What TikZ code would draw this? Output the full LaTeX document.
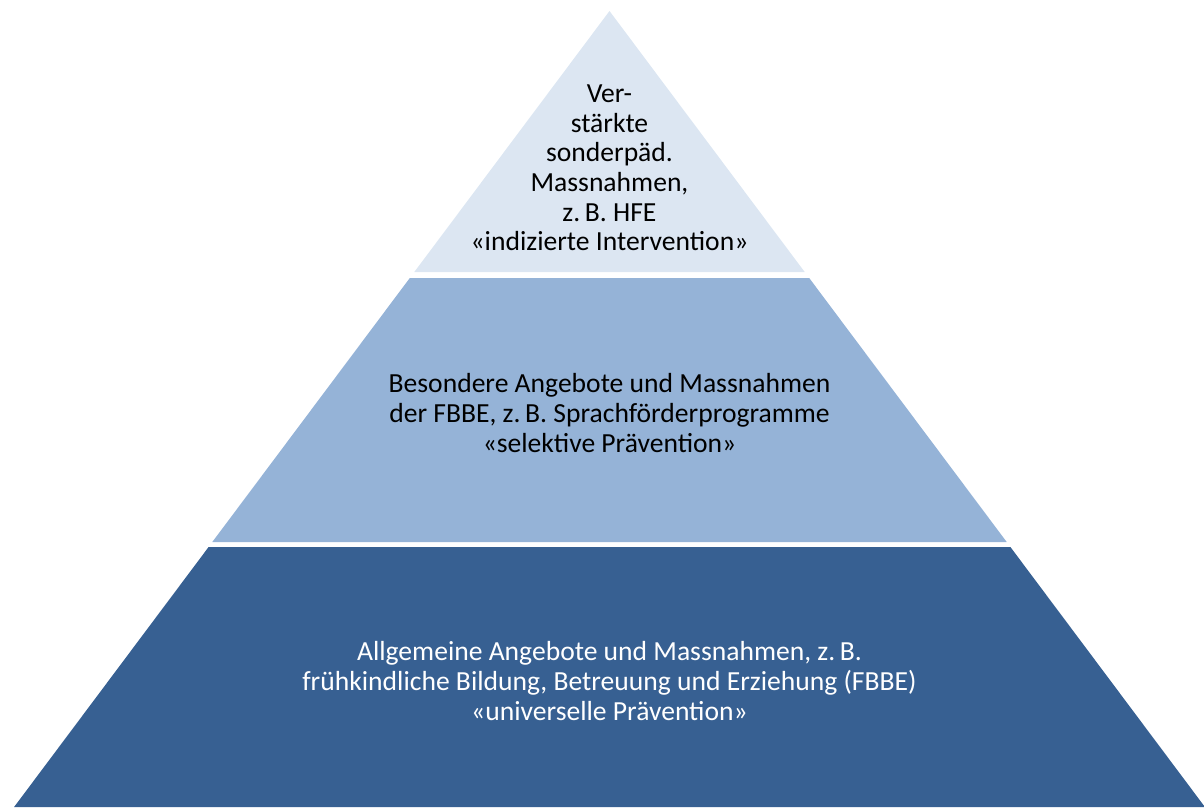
\documentclass[tikz,border=0pt]{standalone}
\usepackage{fontspec}
\setmainfont{Carlito}
\definecolor{tierTop}{HTML}{DCE6F2}
\definecolor{tierMid}{HTML}{95B3D7}
\definecolor{tierLow}{HTML}{376092}
\begin{document}
\begin{tikzpicture}[x=1pt,y=-1pt,
  tiertext/.style={align=center,inner sep=0pt,font=\fontsize{27.6}{29.6}\selectfont},
]
\useasboundingbox (0,0) rectangle (1204,807);
\clip (0,0) rectangle (1204,807);
% tiers
\fill[tierTop] (609.5,11) -- (804.7,272) -- (414.3,272) -- cycle;
\fill[tierMid] (409.8,278) -- (809.2,278) -- (1006.7,542) -- (212.3,542) -- cycle;
\fill[tierLow] (208.6,547) -- (1010.4,547) -- (1204.9,807) -- (14.1,807) -- cycle;
% texts
\node[tiertext,text=black] (top) at (609.5,168) {Ver-\\stärkte\\sonderpäd.\\Massnahmen,\\z.\,B. HFE\\«indizierte Intervention»};
\node[tiertext,text=black] (mid) at (609.5,413) {Besondere Angebote und Massnahmen\\der FBBE, z.\,B. Sprachförderprogramme\\«selektive Prävention»};
\node[tiertext,text=white] (low) at (609.5,681) {Allgemeine Angebote und Massnahmen, z.\,B.\\frühkindliche Bildung, Betreuung und Erziehung (FBBE)\\«universelle Prävention»};
\end{tikzpicture}
\end{document}
